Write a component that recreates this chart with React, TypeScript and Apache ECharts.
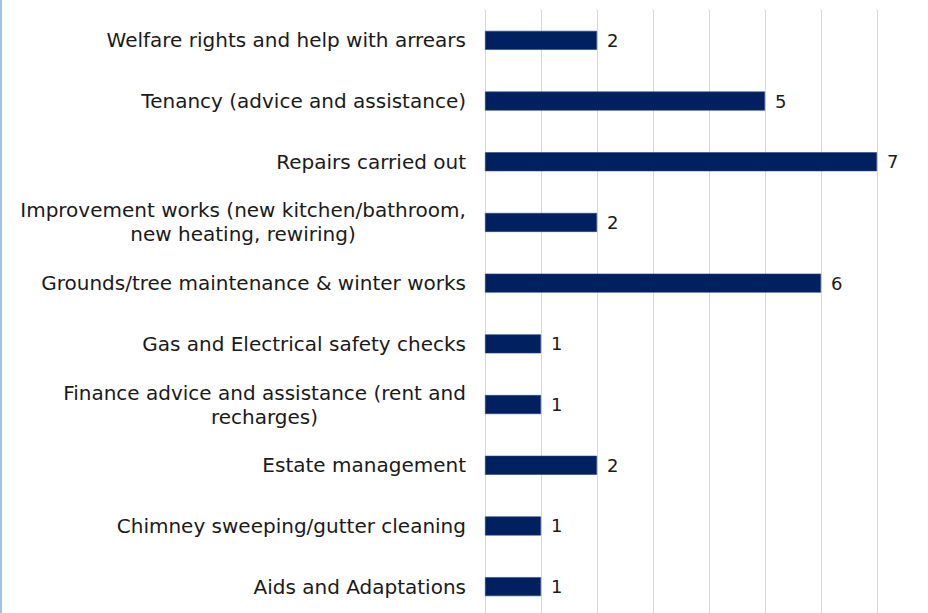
import React, { useEffect, useRef } from "react";
import * as echarts from "echarts";

const categories: string[] = [
  "Welfare rights and help with arrears",
  "Tenancy (advice and assistance)",
  "Repairs carried out",
  "Improvement works (new kitchen/bathroom,\nnew heating, rewiring)",
  "Grounds/tree maintenance & winter works",
  "Gas and Electrical safety checks",
  "Finance advice and assistance (rent and\nrecharges)",
  "Estate management",
  "Chimney sweeping/gutter cleaning",
  "Aids and Adaptations",
];
const values: number[] = [2, 5, 7, 2, 6, 1, 1, 2, 1, 1];

const FONT = "DejaVu Sans";
const LABEL_SIZE = 20;

function measure(text: string): number {
  const c = document.createElement("canvas");
  const ctx = c.getContext("2d");
  if (!ctx) return text.length * 11;
  ctx.font = `${LABEL_SIZE}px "${FONT}"`;
  return ctx.measureText(text).width;
}

export default function App() {
  const ref = useRef<HTMLDivElement>(null);
  useEffect(() => {
    if (!ref.current) return;
    const chart = echarts.init(ref.current, undefined, { renderer: "svg" });
    const rich: Record<string, any> = {};
    const keyFor: Record<string, string> = {};
    categories.forEach((v) => {
      if (v.indexOf("\n") >= 0) {
        const lines = v.split("\n");
        const w = Math.ceil(Math.max(...lines.map(measure)));
        const key = "c" + w;
        keyFor[v] = key;
        rich[key] = {
          width: w,
          align: "center",
          fontFamily: FONT,
          fontSize: LABEL_SIZE,
          color: "#1a1a1a",
          lineHeight: 24,
        };
      }
    });
    const option = {
      animation: false,
      backgroundColor: "#ffffff",
      grid: {
        left: 485,
        right: 51,
        top: 10,
        height: 607,
        containLabel: false,
        outerBoundsMode: "none",
      },
      xAxis: {
        type: "value",
        min: 0,
        max: 7,
        interval: 1,
        axisLabel: { show: false },
        axisLine: { show: false },
        axisTick: { show: false },
        splitLine: { show: true, lineStyle: { color: "#d9d9d9", width: 1 } },
      },
      yAxis: {
        type: "category",
        inverse: true,
        data: categories,
        axisLine: { show: false },
        axisTick: { show: false },
        axisLabel: {
          margin: 19,
          fontFamily: FONT,
          fontSize: LABEL_SIZE,
          color: "#1a1a1a",
          lineHeight: 24,
          formatter: (v: string) => {
            const key = keyFor[v];
            if (!key) return v;
            return v
              .split("\n")
              .map((l) => `{${key}|${l}}`)
              .join("\n");
          },
          rich,
        },
      },
      series: [
        {
          type: "bar",
          data: values,
          barWidth: 19,
          itemStyle: { color: "#002060", borderColor: "#2a4580", borderWidth: 0.6 },
          label: {
            show: true,
            position: "right",
            distance: 10,
            fontFamily: FONT,
            fontSize: 18,
            color: "#1a1a1a",
          },
        },
      ],
      graphic: [
        {
          type: "rect",
          left: 0,
          top: 0,
          shape: { width: 2, height: 613 },
          style: { fill: "#9dc3e6" },
        },
      ],
    };
    chart.setOption(option as any);
    return () => chart.dispose();
  }, []);
  return (
    <div
      ref={ref}
      style={{ position: "fixed", left: 0, top: 0, width: 928, height: 613 }}
    />
  );
}
